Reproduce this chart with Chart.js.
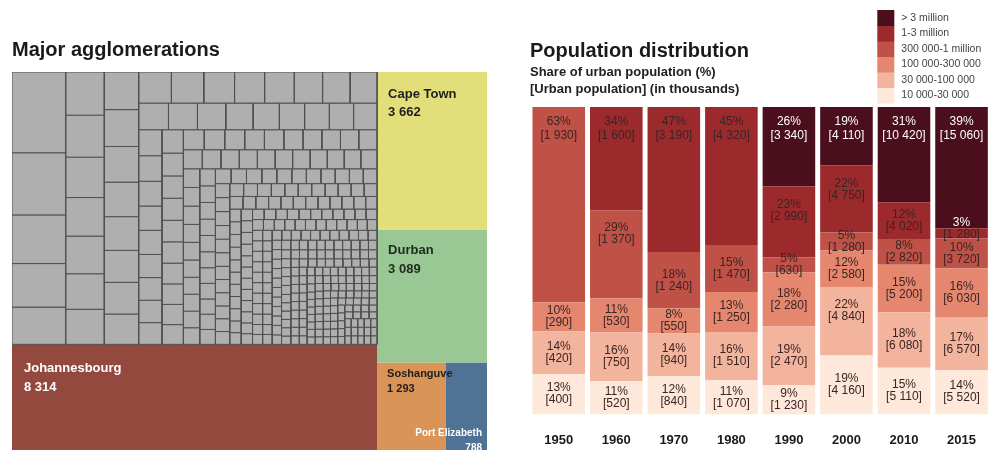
<!DOCTYPE html>
<html>
<head>
<meta charset="utf-8">
<script src="https://cdn.jsdelivr.net/npm/chart.js@4.4.1/dist/chart.umd.min.js"></script>
<style>
html, body { margin: 0; padding: 0; background: #fff; overflow: hidden; width: 994px; height: 450px; }
#tree { position: absolute; left: 0; top: 0; }
#bars { position: absolute; left: 515px; top: 0; }
</style>
</head>
<body>
<canvas id="tree" width="500" height="454"></canvas>
<canvas id="bars" width="479" height="470"></canvas>
<script>
// Major agglomerations (2015, in thousands)
const cityNames = ['Johannesbourg', 'Cape Town', 'Durban', 'Soshanguve', 'Port Elizabeth'];
const cityPop = [8314, 3662, 3089, 1293, 788];

// the grey cells: other agglomerations
const others300k = [780, 600, 470, 420, 360, 300];
const others100k = [292, 281, 268, 262, 247, 244, 233, 228, 221, 214, 209, 198, 196, 188, 183, 181, 172, 168,
    166, 158, 154, 151, 143, 139, 136, 131, 126, 121, 119, 116, 113, 109, 107, 104, 102, 101];
const others30k = [97, 95, 94, 91, 90, 88, 86, 85, 83, 82, 80, 79, 78, 76, 75, 74, 72, 71, 70, 69, 68, 67, 66, 66,
    65, 64, 63, 62, 61, 60, 60, 59, 58, 57, 56, 55, 55, 54, 53, 52, 51, 50, 50, 49, 48, 47, 46, 46, 45, 44, 43, 43,
    42, 41, 41, 40, 39, 39, 38, 37, 37, 36, 36, 35, 35, 34, 34, 33, 33, 32, 32, 31, 31, 30, 30,
    49, 47, 44, 42, 40, 38, 36, 35, 34, 33, 32, 31, 31, 30, 30, 30];
const others10k = [29, 29, 28, 28, 28, 27, 27, 27, 26, 26, 26, 26, 25, 25, 25, 25, 24, 24, 24, 24,
    23, 23, 23, 23, 23, 22, 22, 22, 22, 22, 21, 21, 21, 21, 21, 21, 20, 20, 20, 20,
    20, 20, 19, 19, 19, 19, 19, 19, 19, 18, 18, 18, 18, 18, 18, 18, 17, 17, 17, 17,
    17, 17, 17, 17, 16, 16, 16, 16, 16, 16, 16, 16, 15, 15, 15, 15, 15, 15, 15, 15,
    15, 14, 14, 14, 14, 14, 14, 14, 14, 14, 13, 13, 13, 13, 13, 13, 13, 13, 13, 13,
    12, 12, 12, 12, 12, 12, 12, 12, 12, 12, 12, 11, 11, 11, 11, 11, 11, 11, 11, 11,
    11, 11, 10, 10, 10, 10, 10, 10, 10, 10, 10, 10, 10, 10,
    28, 27, 26, 25, 24, 24, 23, 22, 22, 21, 21, 20, 20, 19, 19, 19, 18, 18, 18, 17,
    17, 17, 16, 16, 16, 16, 15, 15, 15, 15, 14, 14, 14, 14, 14, 13, 13, 13, 13, 13,
    13, 12, 12, 12, 12, 12, 12, 12, 11, 11, 11, 11, 11, 11, 11, 11, 10, 10, 10, 10,
    10, 10, 10, 10, 10, 10, 10, 10, 10, 10, 10, 10, 10, 10, 10, 10, 10, 10, 10, 10,
    19, 18, 17, 16, 15, 15, 14, 14, 13, 13, 12, 12, 12, 11, 11, 11, 11, 10, 10, 10,
    10, 10, 10, 10, 10, 10, 10, 10, 10, 10, 10, 10, 10, 10, 10, 10, 10, 10, 10, 10];

// Population distribution
const years = ['1950', '1960', '1970', '1980', '1990', '2000', '2010', '2015'];
const classes = ['10 000-30 000', '30 000-100 000', '100 000-300 000', '300 000-1 million', '1-3 million', '> 3 million'];
// share of urban population (%)
const share10k = [13, 11, 12, 11, 9, 19, 15, 14];
const share30k = [14, 16, 14, 16, 19, 22, 18, 17];
const share100k = [10, 11, 8, 13, 18, 12, 15, 16];
const share300k = [63, 29, 18, 15, 5, 5, 8, 10];
const share1m = [null, 34, 47, 45, 23, 22, 12, 3];
const share3m = [null, null, null, null, 26, 19, 31, 39];
// urban population (in thousands)
const pop10k = [400, 520, 840, 1070, 1230, 4160, 5110, 5520];
const pop30k = [420, 750, 940, 1510, 2470, 4840, 6080, 6570];
const pop100k = [290, 530, 550, 1250, 2280, 2580, 5200, 6030];
const pop300k = [1930, 1370, 1240, 1470, 630, 1280, 2820, 3720];
const pop1m = [null, 1600, 3190, 4320, 2990, 4750, 4020, 1280];
const pop3m = [null, null, null, null, 3340, 4110, 10420, 15060];

const FONT = '"Liberation Sans", Arial, sans-serif';
const classColors = ['#fde8da', '#f3b49d', '#e5876f', '#bf5146', '#9c2a2d', '#4a0e1c'];
const cityColors = ['#94493f', '#e2de79', '#9ac894', '#db9458', '#4f7295'];
const cityLabelStyle = [
    { size: 13, color: '#ffffff', dx: 12, dy: 28, gap: 19 },
    { size: 13, color: '#1e1e1e', dx: 11, dy: 26, gap: 18 },
    { size: 13, color: '#1e2a1e', dx: 11, dy: 24, gap: 19 },
    { size: 11, color: '#1e1e1e', dx: 10, dy: 15, gap: 15 },
    { size: 10, color: '#ffffff', anchor: 'bottom-right' }
];
const TREE_W = 475, TREE_H = 380;

const fmt = v => String(v).replace(/\B(?=(\d{3})+(?!\d))/g, ' ');
const sum = a => a.reduce((s, v) => s + (v || 0), 0);

// ---------- treemap layout ----------
function worst(row, side) {
    const s = sum(row);
    return Math.max(side * side * Math.max(...row) / (s * s), (s * s) / (side * side * Math.min(...row)));
}

function squarify(values, x, y, w, h) {
    const total = sum(values);
    const areas = values.map(v => v * w * h / total);
    const out = [];
    let i = 0;
    while (i < areas.length) {
        const side = Math.min(w, h);
        const row = [areas[i++]];
        while (i < areas.length && worst(row.concat(areas[i]), side) <= worst(row, side)) row.push(areas[i++]);
        const s = sum(row);
        if (w >= h) {
            const cw = s / h;
            let cy = y;
            row.forEach(a => { out.push([x, cy, x + cw, cy + a / cw]); cy += a / cw; });
            x += cw; w -= cw;
        } else {
            const rh = s / w;
            let cx = x;
            row.forEach(a => { out.push([cx, y, cx + a / rh, y + rh]); cx += a / rh; });
            y += rh; h -= rh;
        }
    }
    return out;
}

// the rest of the 2015 urban population is spread over the grey cells
const urban2015 = sum([pop10k[7], pop30k[7], pop100k[7], pop300k[7], pop1m[7], pop3m[7]]);
const othersTotal = urban2015 - sum(cityPop);
const rightSum = sum(cityPop.slice(1));
const rightW = TREE_W * rightSum / urban2015;
const leftW = TREE_W - rightW;
const othersH = TREE_H * othersTotal / (othersTotal + cityPop[0]);
const ctH = TREE_H * cityPop[1] / rightSum;
const duH = TREE_H * cityPop[2] / rightSum;
const soW = rightW * cityPop[3] / (cityPop[3] + cityPop[4]);

const cityRects = [
    [0, othersH, leftW, TREE_H],
    [leftW, 0, TREE_W, ctH],
    [leftW, ctH, TREE_W, ctH + duH],
    [leftW, ctH + duH, leftW + soW, TREE_H],
    [leftW + soW, ctH + duH, TREE_W, TREE_H]
];
const otherValues = [...others300k, ...others100k, ...others30k, ...others10k].sort((a, b) => b - a);
const otherRects = squarify(otherValues, 0, 0, leftW, othersH);

const rectData = r => [
    { x: r[0], y: r[1] }, { x: r[2], y: r[1] }, { x: r[2], y: r[3] }, { x: r[0], y: r[3] }, { x: r[0], y: r[1] }
];

const treeDatasets = [
    ...otherRects.map(r => ({
        data: rectData(r), fill: 'shape', backgroundColor: '#afafaf', borderColor: '#505050', borderWidth: 1
    })),
    ...cityRects.map((r, i) => ({
        label: cityNames[i], data: rectData(r), fill: 'shape', backgroundColor: cityColors[i], borderColor: cityColors[i], borderWidth: 0
    }))
];

const treeLabels = {
    id: 'treeLabels',
    afterDatasetsDraw(chart) {
        const { ctx, scales: { x, y } } = chart;
        cityRects.forEach((r, i) => {
            const left = x.getPixelForValue(r[0]), right = x.getPixelForValue(r[2]);
            const top = y.getPixelForValue(r[1]), bottom = y.getPixelForValue(r[3]);
            const st = cityLabelStyle[i];
            ctx.save();
            ctx.font = `bold ${st.size}px ${FONT}`;
            ctx.fillStyle = st.color;
            ctx.textBaseline = 'alphabetic';
            if (st.anchor === 'bottom-right') {
                ctx.textAlign = 'right';
                ctx.fillText(cityNames[i], right - 5, bottom - 16);
                ctx.fillText(fmt(cityPop[i]), right - 5, bottom - 1);
            } else {
                ctx.textAlign = 'left';
                ctx.fillText(cityNames[i], left + st.dx, top + st.dy);
                ctx.fillText(fmt(cityPop[i]), left + st.dx, top + st.dy + st.gap);
            }
            ctx.restore();
        });
    }
};

new Chart(document.getElementById('tree'), {
    type: 'line',
    data: { datasets: treeDatasets },
    options: {
        responsive: false,
        animation: false,
        layout: { padding: { left: 12, right: 13, top: 0, bottom: 2 } },
        elements: { point: { radius: 0 }, line: { tension: 0 } },
        scales: {
            x: { type: 'linear', min: 0, max: TREE_W, display: false },
            y: { type: 'linear', min: 0, max: TREE_H, reverse: true, display: false }
        },
        plugins: {
            legend: { display: false },
            tooltip: { enabled: false },
            title: {
                display: true,
                text: 'Major agglomerations',
                align: 'start',
                color: '#1a1a1a',
                font: { family: FONT, size: 20, weight: 'bold', lineHeight: 1.2 },
                padding: { top: 38, bottom: 10 }
            }
        }
    },
    plugins: [treeLabels]
});

// ---------- stacked bars ----------
const shareRows = [share10k, share30k, share100k, share300k, share1m, share3m];
const popRows = [pop10k, pop30k, pop100k, pop300k, pop1m, pop3m];
const yearTotals = years.map((y, j) => sum(popRows.map(r => r[j])));

const barLabels = {
    id: 'barLabels',
    afterDatasetsDraw(chart) {
        const { ctx, chartArea } = chart;
        const last = classes.length - 1;
        ctx.save();
        ctx.font = `12px ${FONT}`;
        ctx.textAlign = 'center';
        ctx.textBaseline = 'middle';
        chart.data.datasets.forEach((ds, i) => {
            chart.getDatasetMeta(i).data.forEach((el, j) => {
                const pct = shareRows[i][j];
                if (pct == null) return;
                const top = el.y, bottom = el.base, h = bottom - top;
                let y1, y2;
                if (top <= chartArea.top + 1) { y1 = top + 15; y2 = top + 29; }
                else if (h > 62) { y1 = top + 18; y2 = top + 30; }
                else if (h < 14) { y1 = top - 6; y2 = top + 6; }
                else { y1 = (top + bottom) / 2 - 6; y2 = y1 + 12; }
                const onDark = i === last || (y1 < top - 3 && i + 1 === last && shareRows[last][j] != null);
                ctx.fillStyle = onDark ? '#ffffff' : '#3b2424';
                ctx.fillText(pct + '%', el.x, y1);
                ctx.fillStyle = i === last ? '#ffffff' : '#3b2424';
                ctx.fillText('[' + fmt(popRows[i][j]) + ']', el.x, y2);
            });
        });
        ctx.restore();
    }
};

const classLegend = {
    id: 'classLegend',
    afterDraw(chart) {
        const { ctx, chartArea } = chart;
        const x0 = chartArea.right - 113, y0 = 10, sw = 17, sh = 15.5;
        const n = chart.data.datasets.length;
        ctx.save();
        ctx.font = `10.5px ${FONT}`;
        ctx.textAlign = 'left';
        ctx.textBaseline = 'middle';
        chart.data.datasets.forEach((ds, i) => {
            const row = n - 1 - i;
            ctx.fillStyle = ds.backgroundColor;
            ctx.fillRect(x0, y0 + row * sh, sw, sh + 0.5);
            ctx.fillStyle = '#444444';
            ctx.fillText(ds.label, x0 + sw + 7, y0 + row * sh + sh / 2);
        });
        ctx.restore();
    }
};

new Chart(document.getElementById('bars'), {
    type: 'bar',
    data: {
        labels: years,
        datasets: classes.map((c, i) => ({
            label: c,
            data: popRows[i].map((v, j) => v == null ? null : v / yearTotals[j] * 100),
            backgroundColor: classColors[i],
            borderWidth: 0,
            barPercentage: 0.914,
            categoryPercentage: 1
        }))
    },
    options: {
        responsive: false,
        animation: false,
        layout: { padding: { left: 15, right: 0, top: 0, bottom: 4 } },
        scales: {
            x: {
                stacked: true,
                grid: { display: false, drawTicks: false, tickLength: 0 },
                border: { display: false },
                ticks: { padding: 18, color: '#1a1a1a', font: { family: FONT, size: 13, weight: 'bold' } }
            },
            y: { stacked: true, display: false, min: 0, max: 100 }
        },
        plugins: {
            legend: { display: false },
            tooltip: { enabled: false },
            title: {
                display: true,
                text: 'Population distribution',
                align: 'start',
                color: '#1a1a1a',
                font: { family: FONT, size: 20, weight: 'bold', lineHeight: 1.2 },
                padding: { top: 39, bottom: 0 }
            },
            subtitle: {
                display: true,
                text: ['Share of urban population (%)', '[Urban population] (in thousands)'],
                align: 'start',
                color: '#222222',
                font: { family: FONT, size: 13, weight: 'bold', lineHeight: 1.31 },
                padding: { top: 1, bottom: 9 }
            }
        }
    },
    plugins: [barLabels, classLegend]
});
</script>
</body>
</html>
